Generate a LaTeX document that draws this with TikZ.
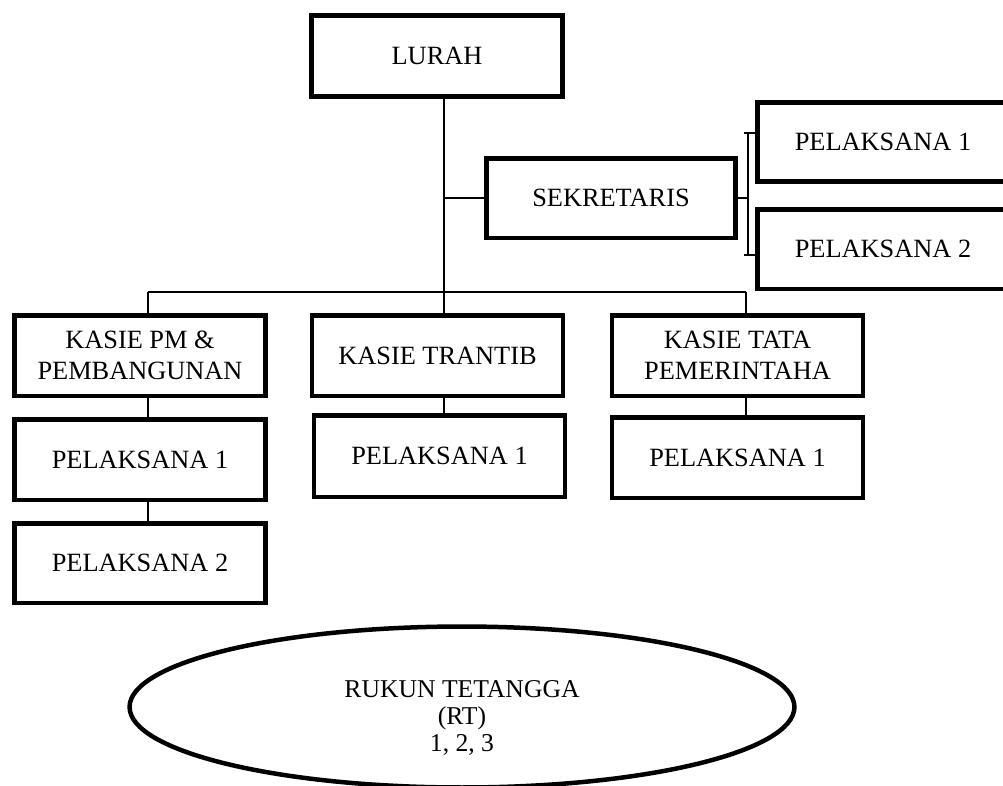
\documentclass[tikz,border=0pt]{standalone}
\usepackage{fontspec}
\setmainfont{Liberation Serif}
\usetikzlibrary{shapes.geometric}

\begin{document}
\begin{tikzpicture}[x=0.02cm,y=-0.02cm,
                    org box/.style={rectangle,draw,line width=0.09cm,minimum width=5.03cm,
                      minimum height=1.63cm,inner sep=0pt,align=center,
                      font=\fontsize{15}{17.5}\selectfont},
                    link/.style={draw,line width=0.035cm}]
  \useasboundingbox (0,0) rectangle (1003,785);
  \clip (0,0) rectangle (1003,785);

  % top
  \node[org box] (lurah) at (437,56) {LURAH};
  \node[org box,minimum width=4.99cm,minimum height=1.59cm] (sekretaris) at (611,198) {SEKRETARIS};
  \node[org box,minimum height=1.59cm] (sekp1) at (883,142) {PELAKSANA 1};
  \node[org box,minimum height=1.59cm] (sekp2) at (883,249) {PELAKSANA 2};

  % kasie row
  \node[org box,minimum height=1.61cm] (pm) at (140,355.5) {KASIE PM \&\\PEMBANGUNAN};
  \node[org box,minimum height=1.61cm] (trantib) at (437.5,355.5) {KASIE TRANTIB};
  \node[org box,minimum height=1.61cm] (tata) at (737.5,355.5) {KASIE TATA\\PEMERINTAHA};

  \node[org box,minimum height=1.61cm] (pm1) at (140,459.5) {PELAKSANA 1};
  \node[org box,minimum height=1.59cm] (pm2) at (140,563) {PELAKSANA 2};
  \node[org box] (trantib1) at (439.5,456) {PELAKSANA 1};
  \node[org box,minimum height=1.61cm] (tata1) at (737.5,457.5) {PELAKSANA 1};

  % RT
  \node[ellipse,draw,line width=0.09cm,minimum width=13.3cm,minimum height=3.22cm] (rt) at (462,707) {};
  \node[align=center,font=\fontsize{14.6}{15.5}\selectfont] (rttext) at (462,718) {RUKUN TETANGGA\\(RT)\\1, 2, 3};

  \coordinate (c1) at (148,292);
  \coordinate (c2) at (444,292);
  \coordinate (c3) at (746,292);
  \coordinate (bt) at (748,133);
  \coordinate (bb) at (748,255);

  \draw[link] (lurah.south -| c2) -- (trantib.north -| c2);
  \draw[link] (sekretaris.west -| c2) -- (sekretaris.west);
  \draw[link] (sekretaris.east) -- (sekretaris.east -| bt);
  \draw[link] (bt) -- (bb);
  \draw[link] ([xshift=-0.08cm]bt) -- (sekp1.west |- bt);
  \draw[link] ([xshift=-0.08cm]bb) -- (sekp2.west |- bb);
  \draw[link] (c1) -- (c3);
  \draw[link] (c1) -- (pm.north -| c1);
  \draw[link] (c3) -- (tata.north -| c3);
  \draw[link] (pm.south -| c1) -- (pm1.north -| c1);
  \draw[link] (pm1.south -| c1) -- (pm2.north -| c1);
  \draw[link] (trantib.south -| c2) -- (trantib1.north -| c2);
  \draw[link] (tata.south -| c3) -- (tata1.north -| c3);
\end{tikzpicture}
\end{document}
